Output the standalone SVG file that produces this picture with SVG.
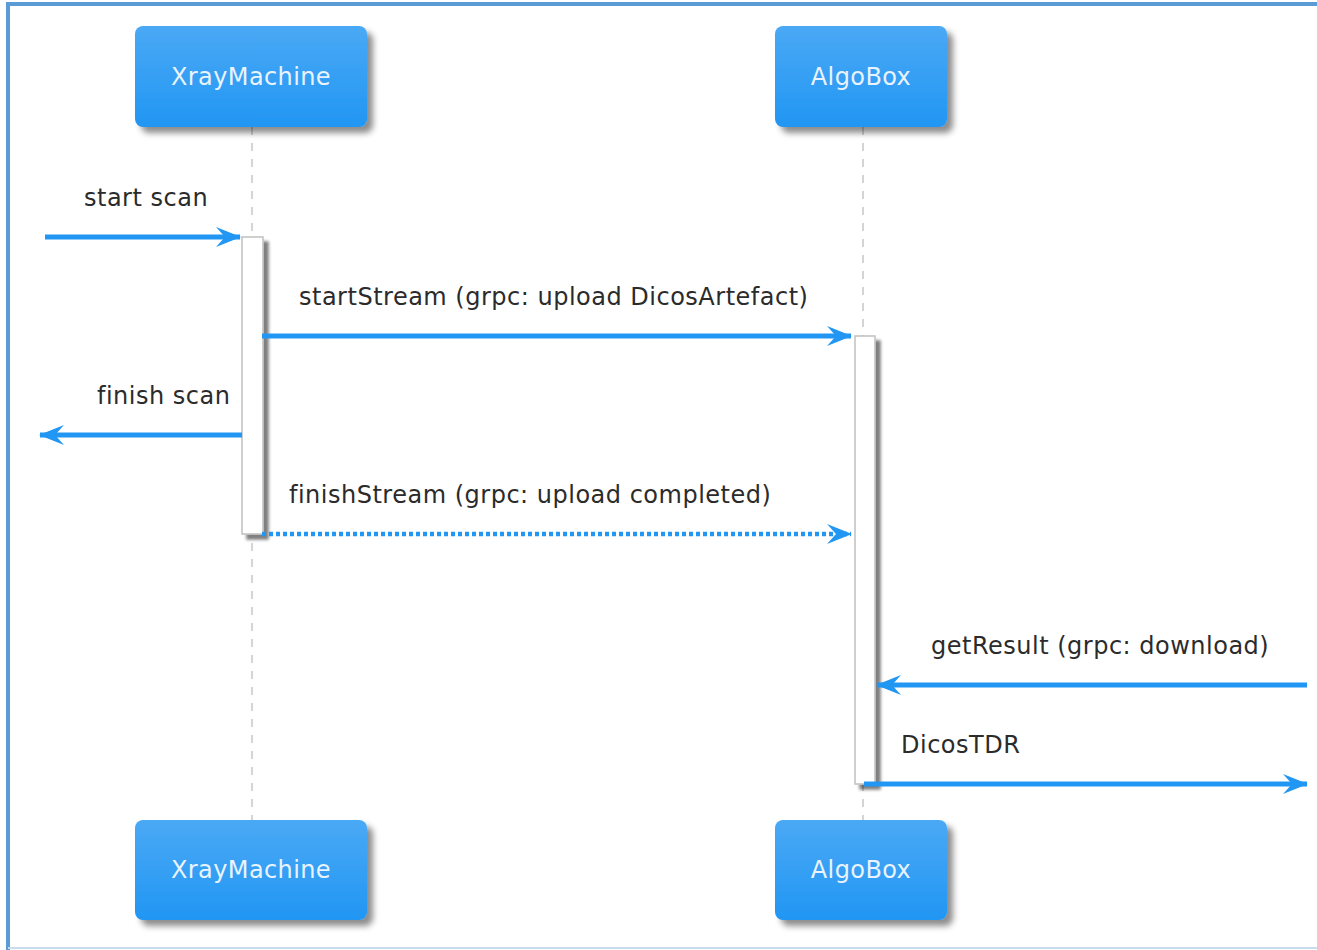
<svg xmlns="http://www.w3.org/2000/svg" width="1317" height="950" viewBox="0 0 1317 950">
<style>
.box{fill:url(#g);filter:url(#sh)}
.bt{font-family:"DejaVu Sans",Verdana,sans-serif;font-size:24px;fill:#e8f3fe;text-anchor:middle;letter-spacing:0.4px}
.lbl{font-family:"DejaVu Sans",Verdana,sans-serif;font-size:24px;fill:#2b2b2b;letter-spacing:0.5px}
.life{stroke:#c8c8c8;stroke-width:1.5;stroke-dasharray:8,8;fill:none}
.act{fill:#fff;stroke:#c0c0c0;stroke-width:1.5;filter:url(#sh2)}
.msg{stroke:#2196F3;stroke-width:5;fill:none}
.dot{stroke:#2196F3;stroke-width:4.5;fill:none;stroke-dasharray:4,3}
</style>
<defs>
<linearGradient id="g" x1="0" y1="0" x2="0" y2="1">
<stop offset="0" stop-color="#4aa9f5"/>
<stop offset="1" stop-color="#2196f3"/>
</linearGradient>
<filter id="sh" x="-20%" y="-20%" width="140%" height="150%">
<feGaussianBlur in="SourceAlpha" stdDeviation="3"/>
<feOffset dx="6" dy="6" result="b"/>
<feFlood flood-color="#000" flood-opacity="0.45"/>
<feComposite in2="b" operator="in"/>
<feMerge><feMergeNode/><feMergeNode in="SourceGraphic"/></feMerge>
</filter>
<filter id="sh2" x="-50%" y="-10%" width="200%" height="120%">
<feGaussianBlur in="SourceAlpha" stdDeviation="1.5"/>
<feOffset dx="5" dy="5" result="b"/>
<feFlood flood-color="#000" flood-opacity="0.5"/>
<feComposite in2="b" operator="in"/>
<feMerge><feMergeNode/><feMergeNode in="SourceGraphic"/></feMerge>
</filter>
<marker id="ah" viewBox="0 0 25 22" refX="24" refY="11" markerWidth="25" markerHeight="22" markerUnits="userSpaceOnUse" orient="auto">
<path d="M0,1 L25,11 L0,21 L9,11 Z" fill="#2196F3"/>
</marker>
</defs>
<rect x="0" y="0" width="1317" height="950" fill="#fff"/>
<path d="M8,950 L8,4 L1317,4" fill="none" stroke="#5b9bd5" stroke-width="4"/>
<line x1="8" y1="948" x2="1317" y2="948" stroke="#c9dcee" stroke-width="2"/>

<g id="lifelines">
<line class="life" x1="252" y1="127" x2="252" y2="820"/>
<line class="life" x1="863" y1="127" x2="863" y2="820"/>
</g>

<g id="activations">
<rect class="act" x="242" y="237" width="21" height="297"/>
<rect class="act" x="855" y="336" width="20" height="448"/>
</g>

<g id="XrayMachine-top"><rect class="box" x="135" y="26" width="232" height="101" rx="8"/><text class="bt" x="251" y="85">XrayMachine</text></g>
<g id="AlgoBox-top"><rect class="box" x="775" y="26" width="172" height="101" rx="8"/><text class="bt" x="861" y="85">AlgoBox</text></g>
<g id="XrayMachine-bottom"><rect class="box" x="135" y="820" width="232" height="100" rx="8"/><text class="bt" x="251" y="878">XrayMachine</text></g>
<g id="AlgoBox-bottom"><rect class="box" x="775" y="820" width="172" height="100" rx="8"/><text class="bt" x="861" y="878">AlgoBox</text></g>

<g id="connectors">
<line class="msg" x1="45" y1="237" x2="240" y2="237" marker-end="url(#ah)"/>
<line class="msg" x1="262" y1="336" x2="851" y2="336" marker-end="url(#ah)"/>
<line class="msg" x1="242" y1="435" x2="40" y2="435" marker-end="url(#ah)"/>
<line class="dot" x1="262" y1="534" x2="851" y2="534" marker-end="url(#ah)"/>
<line class="msg" x1="1307" y1="685" x2="877" y2="685" marker-end="url(#ah)"/>
<line class="msg" x1="864" y1="784" x2="1307" y2="784" marker-end="url(#ah)"/>
</g>

<g id="labels">
<text class="lbl" x="84" y="206">start scan</text>
<text class="lbl" x="299" y="305">startStream (grpc: upload DicosArtefact)</text>
<text class="lbl" x="97" y="404">finish scan</text>
<text class="lbl" x="289" y="503">finishStream (grpc: upload completed)</text>
<text class="lbl" x="931" y="654">getResult (grpc: download)</text>
<text class="lbl" x="901" y="753">DicosTDR</text>
</g>
</svg>
